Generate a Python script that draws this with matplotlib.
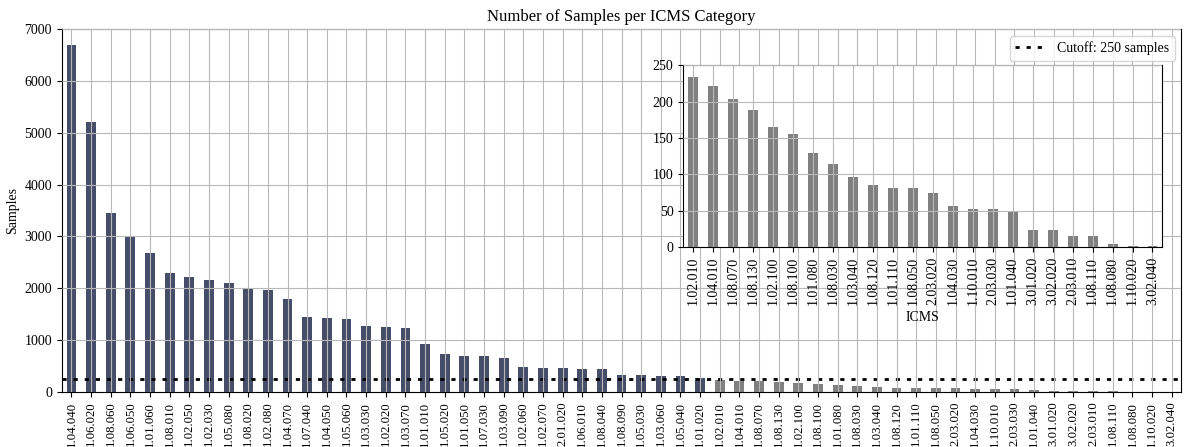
import numpy as np
import matplotlib
matplotlib.use("Agg")
import matplotlib.pyplot as plt

plt.rcParams['font.family'] = ['Liberation Serif', 'DejaVu Serif']
plt.rcParams['font.size'] = 10

# ICMS categories sorted by sample count
icms = ['1.04.040', '1.06.020', '1.08.060', '1.06.050', '1.01.060', '1.08.010', '1.02.050',
        '1.02.030', '1.05.080', '1.08.020', '1.02.080', '1.04.070', '1.07.040', '1.04.050',
        '1.05.060', '1.03.030', '1.02.020', '1.03.070', '1.01.010', '1.05.020', '1.01.050',
        '1.07.030', '1.03.090', '1.02.060', '1.02.070', '2.01.020', '1.06.010', '1.08.040',
        '1.08.090', '1.05.030', '1.03.060', '1.05.040', '1.01.020',
        '1.02.010', '1.04.010', '1.08.070', '1.08.130', '1.02.100', '1.08.100', '1.01.080',
        '1.08.030', '1.03.040', '1.08.120', '1.01.110', '1.08.050', '2.03.020', '1.04.030',
        '1.10.010', '2.03.030', '1.01.040', '3.01.020', '3.02.020', '2.03.010', '1.08.110',
        '1.08.080', '1.10.020', '3.02.040']
samples = [6690, 5210, 3450, 2990, 2675, 2305, 2210, 2170, 2095, 2005, 1960, 1785, 1455,
           1435, 1415, 1280, 1262, 1240, 933, 735, 698, 697, 658, 483, 465, 464, 446, 445,
           330, 329, 310, 309, 271,
           234, 221, 203, 189, 165, 155, 129, 114, 96, 86, 82, 81, 75, 56, 52, 52, 48, 23,
           23, 15, 15, 4, 2, 1]
cutoff = 250

counts = np.array(samples)
x = np.arange(len(icms))
above = counts >= cutoff
colors = np.where(above, '#464d68', '#808080')

fig = plt.figure(figsize=(11.85, 4.47), dpi=100)
ax = fig.add_axes([0.052, 0.123, 0.945, 0.812])
ax.bar(x, counts, width=0.5, color=colors)
ax.axhline(cutoff, color='black', lw=2, ls=(0, (1.5, 2.5)), label='Cutoff: 250 samples')
ax.set_xlim(-0.5, len(icms) - 0.5)
ax.set_ylim(0, 7000)
ax.set_xticks(x)
ax.set_xticklabels(icms, rotation=90, fontsize=9.2)
ax.set_ylabel('Samples')
ax.set_title('Number of Samples per ICMS Category', fontsize=12)
ax.grid(True, color='#b8b8b8', lw=0.8)
ax.set_axisbelow(False)
ax.legend(loc='upper right', handlelength=2.2)

# 截断值以下的类别放大显示
low = ~above
ins = fig.add_axes([0.5765, 0.447, 0.4045, 0.407])
ins.bar(np.arange(low.sum()), counts[low], width=0.5, color='#808080')
ins.set_xlim(-0.5, low.sum() - 0.5)
ins.set_ylim(0, 250)
ins.set_xticks(np.arange(low.sum()))
ins.set_xticklabels(np.array(icms)[low], rotation=90)
ins.set_xlabel('ICMS')
ins.grid(True, color='#b8b8b8', lw=0.8)
ins.set_axisbelow(False)

fig.savefig('out.png', dpi=100)
